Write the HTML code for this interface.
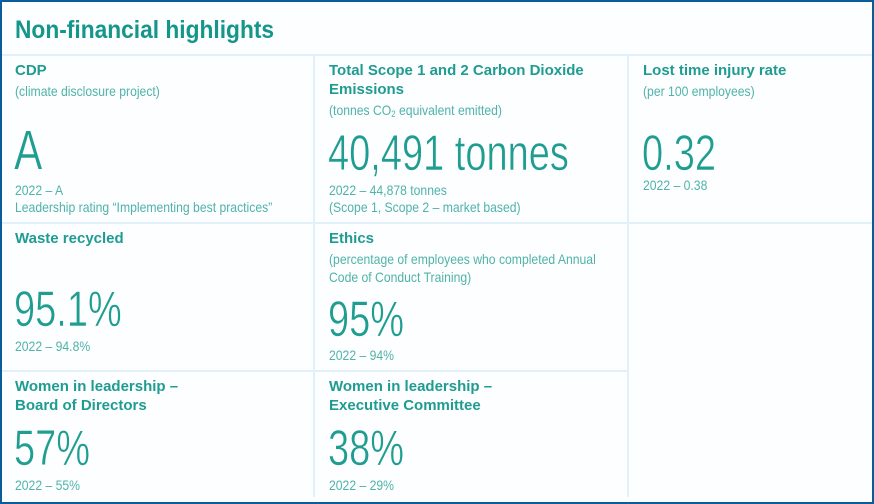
<!DOCTYPE html>
<html>
<head>
<meta charset="utf-8">
<style>
  html,body{margin:0;padding:0;}
  body{width:874px;height:504px;position:relative;overflow:hidden;background:#fdfeff;font-family:"Liberation Sans",Arial,sans-serif;}
  .frame{position:absolute;left:0;top:0;width:870px;height:500px;border:2px solid #0b5c9a;}
  .ln{position:absolute;background:#e2f0fa;}
  .t{position:absolute;white-space:nowrap;transform-origin:0 0;line-height:1;}
  .title{font-size:25px;font-weight:bold;color:#15968b;transform:scaleX(0.91);}
  .h{font-size:15px;font-weight:bold;color:#1f9c91;}
  .s{font-size:14px;color:#4fb3a9;transform:scaleX(0.87);}
  .b{font-size:50px;color:#1f9d91;transform:scaleX(0.76);-webkit-text-stroke:0.6px #fdfeff;}
  sub{font-size:9px;vertical-align:-2px;line-height:0;}
</style>
</head>
<body>
<div class="frame"></div>

<!-- grid lines -->
<div class="ln" style="left:2px;top:53.5px;width:870px;height:2px;"></div>
<div class="ln" style="left:2px;top:221.5px;width:870px;height:2px;"></div>
<div class="ln" style="left:2px;top:369.5px;width:625px;height:2px;"></div>
<div class="ln" style="left:313.3px;top:55.5px;width:2px;height:441px;"></div>
<div class="ln" style="left:627px;top:55.5px;width:2px;height:441px;"></div>

<div class="t title" style="left:15px;top:17.8px;">Non-financial highlights</div>

<!-- Row 1 -->
<div class="t h" style="left:15px;top:63.3px;">CDP</div>
<div class="t s" style="left:15px;top:84.2px;">(climate disclosure project)</div>
<div class="t b" style="left:14px;top:121.6px;font-size:56px;">A</div>
<div class="t s" style="left:15px;top:183.2px;">2022 – A</div>
<div class="t s" style="left:15px;top:199.7px;">Leadership rating “Implementing best practices”</div>

<div class="t h" style="left:329px;top:63.3px;">Total Scope 1 and 2 Carbon Dioxide</div>
<div class="t h" style="left:329px;top:82.3px;">Emissions</div>
<div class="t s" style="left:329px;top:102.6px;">(tonnes CO<sub>2</sub> equivalent emitted)</div>
<div class="t b" style="left:328px;top:127.7px;">40,491 tonnes</div>
<div class="t s" style="left:329px;top:183.2px;">2022 – 44,878 tonnes</div>
<div class="t s" style="left:329px;top:199.7px;">(Scope 1, Scope 2 – market based)</div>

<div class="t h" style="left:643px;top:63.3px;">Lost time injury rate</div>
<div class="t s" style="left:643px;top:84.2px;">(per 100 employees)</div>
<div class="t b" style="left:642px;top:127.7px;">0.32</div>
<div class="t s" style="left:643px;top:177.5px;">2022 – 0.38</div>

<!-- Row 2 -->
<div class="t h" style="left:15px;top:230.6px;">Waste recycled</div>
<div class="t b" style="left:14px;top:284.4px;">95.1%</div>
<div class="t s" style="left:15px;top:339.2px;">2022 – 94.8%</div>

<div class="t h" style="left:329px;top:230.6px;">Ethics</div>
<div class="t s" style="left:329px;top:251.7px;">(percentage of employees who completed Annual</div>
<div class="t s" style="left:329px;top:269.7px;">Code of Conduct Training)</div>
<div class="t b" style="left:328px;top:294.4px;">95%</div>
<div class="t s" style="left:329px;top:348.2px;">2022 – 94%</div>

<!-- Row 3 -->
<div class="t h" style="left:15px;top:379px;">Women in leadership –</div>
<div class="t h" style="left:15px;top:398px;">Board of Directors</div>
<div class="t b" style="left:14px;top:422.7px;">57%</div>
<div class="t s" style="left:15px;top:478.2px;">2022 – 55%</div>

<div class="t h" style="left:329px;top:379px;">Women in leadership –</div>
<div class="t h" style="left:329px;top:398px;">Executive Committee</div>
<div class="t b" style="left:328px;top:422.7px;">38%</div>
<div class="t s" style="left:329px;top:478.2px;">2022 – 29%</div>
</body>
</html>
